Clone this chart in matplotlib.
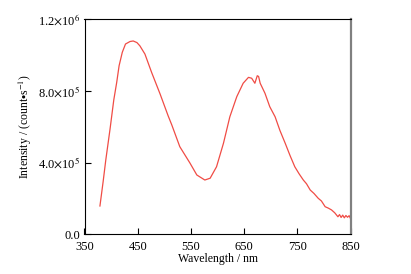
import numpy as np
import matplotlib
matplotlib.use('Agg')
import matplotlib.pyplot as plt

plt.rcParams['font.family'] = ['Liberation Serif', 'DejaVu Serif']
plt.rcParams['mathtext.fontset'] = 'stix'

# emission spectrum
wavelength = [379, 385, 390, 398, 405, 410.5, 415, 421, 427, 435.5, 441.5, 448.5, 454,
              463.5, 476, 492, 507, 514, 529, 548, 561, 576, 586, 598, 611, 623, 636,
              648, 658, 664, 670, 674.5, 677, 680, 689, 698, 708, 717, 727, 736, 745,
              753, 761, 767, 774, 781, 789, 795, 802, 808, 814, 820, 826, 829, 832,
              835, 838, 841, 844, 847, 850]
intensity = [158e3, 294e3, 415e3, 588e3, 750e3, 848e3, 941e3, 1016e3, 1062e3, 1076e3,
             1079e3, 1070e3, 1052e3, 1006e3, 904e3, 783e3, 662e3, 610e3, 489e3, 398e3,
             331e3, 303e3, 313e3, 377e3, 508e3, 656e3, 768e3, 843e3, 876e3, 871e3,
             843e3, 885e3, 881e3, 843e3, 787e3, 712e3, 656e3, 580e3, 508e3, 440e3,
             377e3, 338e3, 303e3, 282e3, 247e3, 228e3, 201e3, 186e3, 154e3, 146e3,
             136e3, 120e3, 98e3, 110e3, 94e3, 107e3, 92e3, 105e3, 95e3, 104e3, 86e3]

xticks = [350, 450, 550, 650, 750, 850]
yticks = [0, 4e5, 8e5, 1.2e6]
ytick_labels = ['0.0', r'4.0$\times$10$^5$', r'8.0$\times$10$^5$', r'1.2$\times$10$^6$']

fig = plt.figure(figsize=(4.11, 2.74), dpi=100)
ax = fig.add_axes([84.5 / 411, 1 - 234.3 / 274, 266.2 / 411, 215 / 274])

ax.plot(wavelength, intensity, color='#f04c45', linewidth=0.9)

ax.set_xlim(350, 850)
ax.set_ylim(0, 1.2e6)
ax.set_xticks(xticks)
ax.set_xticklabels([str(v) for v in xticks])
ax.set_yticks(yticks)
ax.set_yticklabels(ytick_labels)
ax.tick_params(direction='in', length=4, width=0.8, labelsize=9,
               top=False, right=False)
ax.tick_params(axis='x', pad=5)
ax.tick_params(axis='y', pad=3)

for s in ['left', 'bottom', 'top']:
    ax.spines[s].set_linewidth(0.8)
    ax.spines[s].set_color('black')
ax.spines['right'].set_color('#808080')
ax.spines['right'].set_linewidth(1.6)

ax.set_xlabel('Wavelength / nm', fontsize=8.5, labelpad=0)
ax.set_ylabel(r'Intensity / (count$\bullet$s$^{-1}$)', fontsize=8.5, labelpad=3)

fig.savefig('out.png', dpi=100)
